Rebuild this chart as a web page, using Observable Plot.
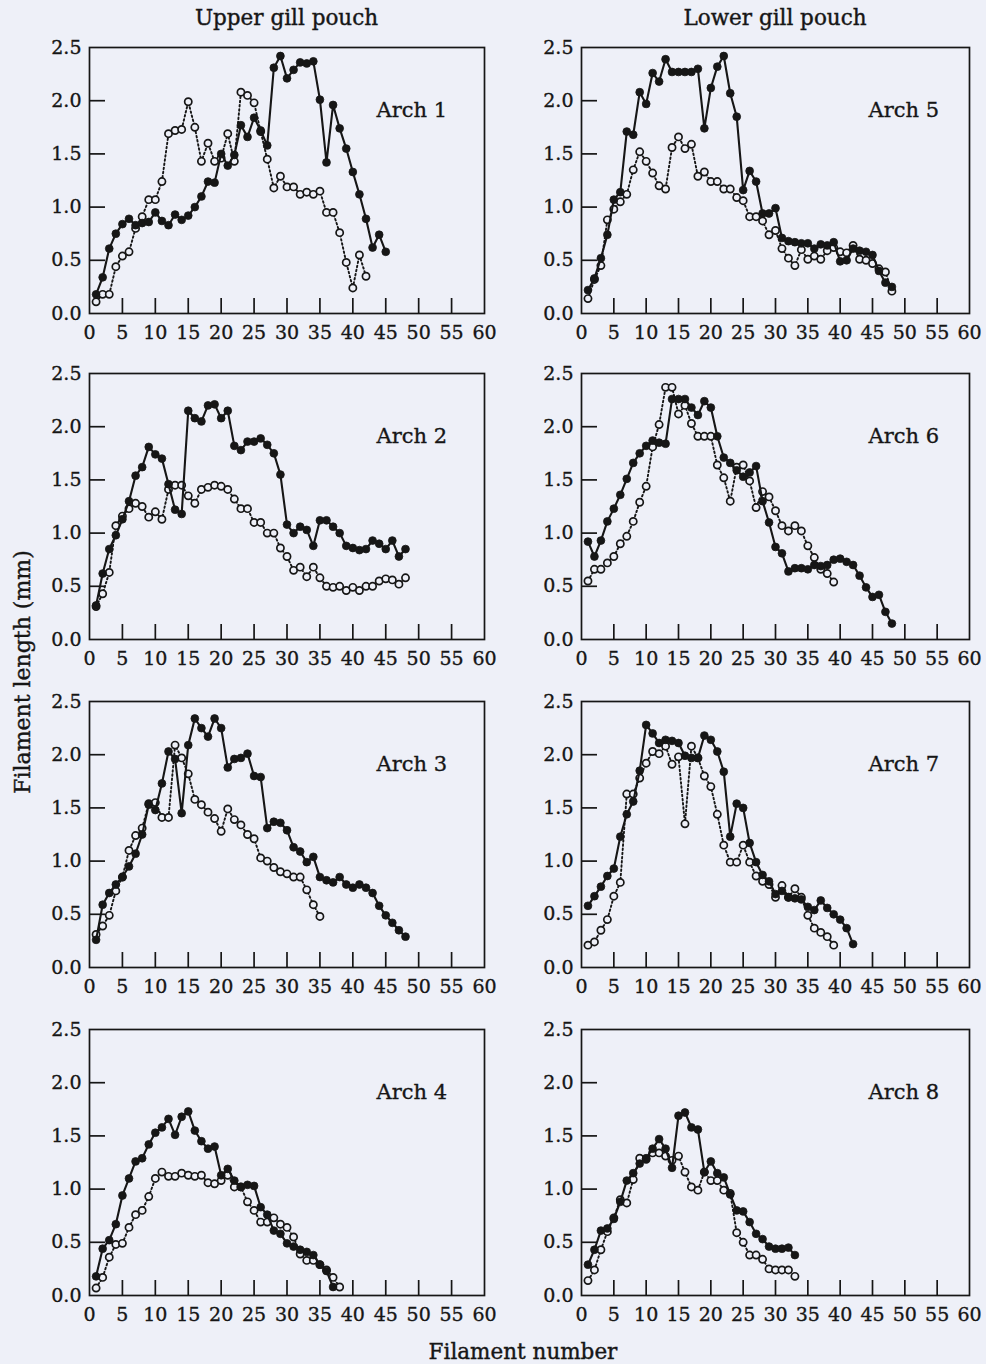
<!DOCTYPE html>
<html><head><meta charset="utf-8">
<script src="https://cdn.jsdelivr.net/npm/d3@7"></script>
<script src="https://cdn.jsdelivr.net/npm/@observablehq/plot@0.6"></script>
<style>
html,body{margin:0;padding:0;background:#eef0f8;}
#root{position:relative;width:986px;height:1364px;font-family:"DejaVu Serif",serif;color:#161616;overflow:hidden;}
.hdr{position:absolute;font-size:21.5px;white-space:nowrap;transform:translateX(-50%);-webkit-text-stroke:0.4px #161616;}
.ytitle{position:absolute;font-size:22px;white-space:nowrap;transform:translate(-50%,-50%) rotate(-90deg);-webkit-text-stroke:0.4px #161616;}
.panel{position:absolute;}
.panel text{stroke:#161616;stroke-width:0.35px;}
</style></head><body><div id="root"></div>
<script>
// ---- data (filament length, mm, by filament number starting at 1) ----
const columnTitles = ["Upper gill pouch", "Lower gill pouch"];
const xTitle = "Filament number";
const yTitle = "Filament length (mm)";
const archNames = ["Arch 1","Arch 2","Arch 3","Arch 4","Arch 5","Arch 6","Arch 7","Arch 8"];
const xLabelTicks = [0,5,10,15,20,25,30,35,40,45,50,55,60];
const xInnerTicks = [5,10,15,20,25,30,35,40,45,50,55];
const yLabelTicks = [0,0.5,1.0,1.5,2.0,2.5];
const yInnerTicks = [0.5,1.0,1.5,2.0];

const arch1Filled = [0.18,0.34,0.61,0.75,0.84,0.89,0.83,0.85,0.86,0.95,0.87,0.83,0.93,0.88,0.92,1.00,1.10,1.24,1.23,1.50,1.39,1.49,1.77,1.66,1.84,1.72,1.58,2.31,2.42,2.21,2.29,2.36,2.35,2.37,2.01,1.42,1.96,1.74,1.55,1.33,1.12,0.89,0.62,0.74,0.58];
const arch1Open = [0.11,0.18,0.18,0.44,0.54,0.58,0.80,0.91,1.07,1.07,1.24,1.69,1.72,1.73,1.99,1.75,1.43,1.60,1.43,1.46,1.69,1.43,2.08,2.05,1.98,1.71,1.45,1.18,1.29,1.19,1.19,1.12,1.14,1.12,1.15,0.95,0.95,0.76,0.48,0.24,0.55,0.35];

const arch2Filled = [0.32,0.62,0.85,0.98,1.13,1.30,1.54,1.62,1.81,1.74,1.70,1.46,1.22,1.18,2.15,2.08,2.05,2.20,2.21,2.08,2.15,1.82,1.78,1.86,1.86,1.89,1.83,1.75,1.55,1.08,1.00,1.06,1.03,0.88,1.12,1.12,1.06,1.00,0.88,0.86,0.84,0.85,0.93,0.90,0.85,0.93,0.78,0.85];
const arch2Open = [0.31,0.43,0.63,1.07,1.16,1.23,1.28,1.25,1.15,1.20,1.13,1.41,1.45,1.45,1.35,1.28,1.41,1.43,1.45,1.44,1.41,1.32,1.23,1.23,1.10,1.10,1.00,1.00,0.86,0.78,0.65,0.68,0.59,0.68,0.58,0.50,0.49,0.50,0.46,0.49,0.46,0.50,0.50,0.55,0.57,0.56,0.52,0.58];

const arch3Filled = [0.26,0.59,0.70,0.78,0.85,0.95,1.07,1.25,1.53,1.48,1.73,2.03,1.96,1.45,2.09,2.34,2.25,2.17,2.34,2.25,1.88,1.96,1.97,2.01,1.80,1.79,1.31,1.37,1.36,1.29,1.13,1.09,0.99,1.04,0.85,0.82,0.80,0.85,0.78,0.75,0.78,0.75,0.70,0.58,0.49,0.42,0.35,0.29];
const arch3Open = [0.31,0.39,0.49,0.72,0.85,1.10,1.24,1.31,1.54,1.55,1.41,1.41,2.09,1.97,1.82,1.58,1.53,1.46,1.40,1.28,1.49,1.39,1.34,1.25,1.21,1.03,1.00,0.94,0.90,0.88,0.85,0.85,0.73,0.59,0.48];

const arch4Filled = [0.18,0.44,0.52,0.67,0.94,1.10,1.26,1.29,1.42,1.53,1.58,1.66,1.51,1.68,1.73,1.55,1.45,1.38,1.40,1.13,1.19,1.08,1.02,1.04,1.03,0.83,0.76,0.61,0.58,0.49,0.46,0.43,0.41,0.38,0.29,0.23,0.08];
const arch4Open = [0.07,0.17,0.36,0.48,0.49,0.64,0.76,0.80,0.93,1.10,1.16,1.12,1.12,1.15,1.13,1.12,1.13,1.06,1.05,1.08,1.13,1.02,1.02,0.88,0.80,0.69,0.69,0.73,0.67,0.64,0.55,0.39,0.33,0.33,0.29,0.24,0.17,0.08];

const arch5Filled = [0.22,0.33,0.52,0.74,1.07,1.14,1.71,1.68,2.08,1.97,2.26,2.18,2.39,2.27,2.27,2.27,2.27,2.30,1.74,2.12,2.32,2.42,2.07,1.85,1.16,1.34,1.24,0.94,0.94,0.99,0.71,0.68,0.67,0.66,0.66,0.61,0.65,0.64,0.67,0.49,0.50,0.61,0.59,0.58,0.55,0.40,0.29,0.25];
const arch5Open = [0.14,0.32,0.45,0.88,0.98,1.05,1.12,1.35,1.52,1.43,1.32,1.20,1.17,1.56,1.66,1.55,1.59,1.29,1.33,1.24,1.24,1.17,1.17,1.09,1.06,0.91,0.91,0.87,0.74,0.78,0.61,0.52,0.45,0.60,0.51,0.54,0.51,0.59,0.62,0.58,0.57,0.64,0.51,0.50,0.47,0.42,0.39,0.21];

const arch6Filled = [0.92,0.78,0.93,1.11,1.23,1.36,1.51,1.66,1.75,1.82,1.87,1.85,1.84,2.26,2.26,2.26,2.18,2.11,2.24,2.18,1.91,1.71,1.66,1.59,1.53,1.57,1.63,1.30,1.10,0.87,0.81,0.64,0.67,0.67,0.66,0.70,0.69,0.70,0.75,0.76,0.73,0.70,0.60,0.49,0.40,0.42,0.26,0.15];
const arch6Open = [0.55,0.66,0.66,0.72,0.78,0.90,0.97,1.11,1.29,1.44,1.81,2.02,2.37,2.37,2.12,2.20,2.03,1.91,1.91,1.91,1.64,1.52,1.30,1.62,1.64,1.49,1.24,1.39,1.34,1.21,1.07,1.02,1.07,1.02,0.88,0.77,0.66,0.62,0.54];

const arch7Filled = [0.58,0.67,0.76,0.86,0.93,1.23,1.44,1.56,1.85,2.28,2.20,2.11,2.14,2.13,2.11,1.99,1.97,1.97,2.18,2.14,2.03,1.84,1.23,1.54,1.50,1.17,0.99,0.87,0.81,0.69,0.72,0.66,0.65,0.64,0.57,0.54,0.63,0.56,0.50,0.45,0.37,0.22];
const arch7Open = [0.21,0.24,0.35,0.45,0.67,0.80,1.63,1.63,1.78,1.92,2.03,2.01,2.08,1.91,1.98,1.35,2.08,1.97,1.80,1.70,1.44,1.15,0.99,0.99,1.15,0.99,0.86,0.81,0.78,0.66,0.77,0.66,0.74,0.66,0.49,0.37,0.33,0.29,0.21];

const arch8Filled = [0.29,0.43,0.61,0.63,0.72,0.88,1.08,1.15,1.24,1.29,1.38,1.47,1.38,1.20,1.69,1.72,1.58,1.56,1.16,1.26,1.15,1.11,0.95,0.80,0.79,0.69,0.58,0.53,0.46,0.44,0.44,0.45,0.38];
const arch8Open = [0.14,0.24,0.43,0.60,0.73,0.90,0.87,1.09,1.29,1.28,1.34,1.34,1.31,1.27,1.31,1.16,1.02,0.99,1.16,1.08,1.08,0.99,0.96,0.59,0.50,0.38,0.38,0.34,0.25,0.24,0.24,0.24,0.18];

const filledSeries = [arch1Filled,arch2Filled,arch3Filled,arch4Filled,arch5Filled,arch6Filled,arch7Filled,arch8Filled];
const openSeries = [arch1Open,arch2Open,arch3Open,arch4Open,arch5Open,arch6Open,arch7Open,arch8Open];

// ---- layout ----
const BG = "#eef0f8", INK = "#161616";
const FONT = "DejaVu Serif, serif";
const colFrameLeft = [89, 581];
const colFrameWidth = [395, 388];
const rowFrameTop = [47, 373, 701, 1029];
const frameH = 266;
const ML = 60, MR = 16, MT = 10, MB = 42;

const root = document.getElementById("root");

columnTitles.forEach((t, c) => {
  const d = document.createElement("div");
  d.className = "hdr";
  d.textContent = t;
  d.style.left = (colFrameLeft[c] + colFrameWidth[c] / 2) + "px";
  d.style.top = "5px";
  root.appendChild(d);
});

const toRows = arr => arr.map((v, i) => ({n: i + 1, len: v}));

archNames.forEach((name, k) => {
  const c = k < 4 ? 0 : 1;
  const r = k % 4;
  const innerW = colFrameWidth[c];
  const filled = toRows(filledSeries[k]);
  const open = toRows(openSeries[k]);
  const chart = Plot.plot({
    width: ML + innerW + MR,
    height: MT + frameH + MB,
    marginLeft: ML, marginRight: MR, marginTop: MT, marginBottom: MB,
    x: {domain: [0, 60]},
    y: {domain: [0, 2.5]},
    style: {background: "transparent", fontFamily: FONT, fontSize: "19px", color: INK, overflow: "visible"},
    marks: [
      Plot.axisX({ticks: xLabelTicks, tickSize: 0, tickPadding: 12, label: null, fontSize: 19, tickFormat: d => String(d)}),
      Plot.axisY({ticks: yLabelTicks, tickSize: 0, tickPadding: 8, label: null, fontSize: 19, dy: 0, tickFormat: d3.format(".1f")}),
      Plot.tickX(xInnerTicks, {x: d => d, insetTop: frameH - 15, stroke: INK, strokeWidth: 1.7}),
      Plot.tickY(yInnerTicks, {y: d => d, insetRight: innerW - 16, stroke: INK, strokeWidth: 1.7}),
      Plot.frame({stroke: INK, strokeWidth: 1.7}),
      Plot.line(open, {x: "n", y: "len", stroke: INK, strokeWidth: 1.9, strokeDasharray: "1.6,2.6"}),
      Plot.dot(open, {x: "n", y: "len", r: 3.6, fill: BG, stroke: INK, strokeWidth: 1.7}),
      Plot.line(filled, {x: "n", y: "len", stroke: INK, strokeWidth: 2.1}),
      Plot.dot(filled, {x: "n", y: "len", r: 3.9, fill: INK, stroke: INK, strokeWidth: 0.8}),
      Plot.text([name], {text: d => d, frameAnchor: "top-left", dx: 287, dy: 63, textAnchor: "start", lineAnchor: "middle", fontSize: 21, fill: INK})
    ]
  });
  chart.classList.add("panel");
  chart.style.left = (colFrameLeft[c] - ML) + "px";
  chart.style.top = (rowFrameTop[r] - MT) + "px";
  root.appendChild(chart);
});

const yt = document.createElement("div");
yt.className = "ytitle";
yt.textContent = yTitle;
yt.style.left = "22px";
yt.style.top = "672px";
root.appendChild(yt);

const xt = document.createElement("div");
xt.className = "hdr";
xt.textContent = xTitle;
xt.style.left = "523px";
xt.style.top = "1339px";
root.appendChild(xt);
</script></body></html>
